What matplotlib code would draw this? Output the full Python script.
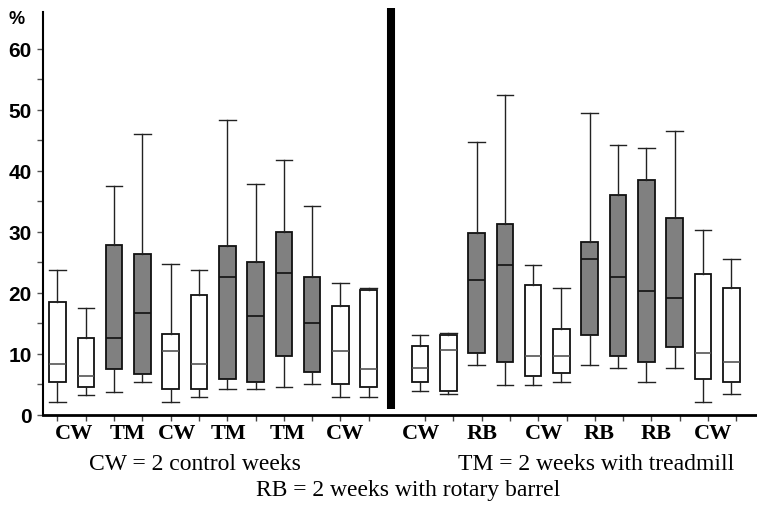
import numpy as np
import matplotlib
matplotlib.use('Agg')
import matplotlib.pyplot as plt

# left panel: CW / TM experiment, right panel: CW / RB experiment (values in %)
left_low = [2.1, 3.3, 3.7, 5.4, 2.1, 2.9, 4.2, 4.2, 4.6, 5.0, 2.9, 2.9]
left_q1 = [5.4, 4.6, 7.5, 6.7, 4.2, 4.2, 5.9, 5.4, 9.6, 7.0, 5.0, 4.6]
left_med = [8.3, 6.3, 12.5, 16.7, 10.4, 8.3, 22.5, 16.2, 23.3, 15.0, 10.4, 7.5]
left_q3 = [18.4, 12.5, 27.9, 26.3, 13.3, 19.6, 27.6, 25.0, 30.0, 22.5, 17.9, 20.4]
left_high = [23.8, 17.5, 37.5, 46.0, 24.7, 23.8, 48.4, 37.9, 41.7, 34.2, 21.6, 20.8]
left_treated = [0, 0, 1, 1, 0, 0, 1, 1, 1, 1, 0, 0]

right_low = [3.8, 3.4, 8.2, 4.9, 4.9, 5.3, 8.2, 7.7, 5.3, 7.7, 2.0, 3.4]
right_q1 = [5.3, 3.8, 10.1, 8.7, 6.3, 6.8, 13.0, 9.7, 8.7, 11.1, 5.8, 5.3]
right_med = [7.7, 10.6, 22.1, 24.5, 9.7, 9.7, 25.5, 22.6, 20.2, 19.2, 10.1, 8.7]
right_q3 = [11.2, 13.0, 29.8, 31.2, 21.2, 14.0, 28.4, 36.1, 38.5, 32.2, 23.1, 20.7]
right_high = [13.0, 13.4, 44.8, 52.4, 24.5, 20.7, 49.5, 44.2, 43.7, 46.6, 30.3, 25.5]
right_treated = [0, 0, 1, 1, 0, 0, 1, 1, 1, 1, 0, 0]

left_groups = ['CW', 'TM', 'CW', 'TM', 'TM', 'CW']
right_groups = ['CW', 'RB', 'CW', 'RB', 'RB', 'CW']

y_ticks = [0, 10, 20, 30, 40, 50, 60]

# layout (box slots)
right_start = 12.81
left_pos = np.arange(12)
right_pos = right_start + np.arange(12)
left_label_x = [0.58, 2.46, 4.24, 6.06, 8.13, 10.16]
right_label_x = [12.84, 15.0, 17.19, 19.13, 21.15, 23.16]


def make_stats(low, q1, med, q3, high):
    return [dict(whislo=a, q1=b, med=c, q3=d, whishi=e, fliers=[])
            for a, b, c, d, e in zip(low, q1, med, q3, high)]


fig = plt.figure(figsize=(7.57, 5.10), dpi=100)
ax = fig.add_axes([0.0564, 0.185, 0.9436, 0.789])

stats = make_stats(left_low, left_q1, left_med, left_q3, left_high) + \
        make_stats(right_low, right_q1, right_med, right_q3, right_high)
treated = left_treated + right_treated
positions = list(left_pos) + list(right_pos)

bp = ax.bxp(stats, positions=positions, widths=0.585, patch_artist=True,
            showfliers=False,
            boxprops=dict(linewidth=1.3, edgecolor='#111111'),
            whiskerprops=dict(linewidth=1.0, color='#222222'),
            capprops=dict(linewidth=1.0, color='#222222'),
            medianprops=dict(linewidth=1.2, color='#111111'),
            capwidths=0.585)
for box, med, t in zip(bp['boxes'], bp['medians'], treated):
    box.set_facecolor('#808080' if t else 'white')
    if not t:
        med.set_color('#555555')

# thick separator between the two experiments
ax.plot([11.78, 11.78], [0.9, 66.7], color='black', linewidth=5.8,
        solid_capstyle='butt', clip_on=False)

ax.set_xlim(-0.523, 24.72)
ax.set_ylim(0, 66)

ax.spines['top'].set_visible(False)
ax.spines['right'].set_visible(False)
ax.spines['left'].set_linewidth(1.5)
ax.spines['bottom'].set_linewidth(2.0)

ax.set_yticks(y_ticks)
ax.set_yticklabels([str(v) for v in y_ticks], fontfamily='Liberation Sans',
                   fontweight='bold', fontsize=15)
ax.set_yticks(np.arange(5, 60, 10), minor=True)
ax.tick_params(axis='y', which='both', direction='out', length=4, width=1,
               color='#555555', pad=4)

ax.set_xticks(list(left_pos) + list(right_pos + 0.18))
ax.set_xticklabels([])
ax.tick_params(axis='x', which='major', direction='out', length=4, width=1,
               color='#444444')

for x, g in zip(left_label_x + right_label_x, left_groups + right_groups):
    ax.text(x, -1.45, g, ha='center', va='top', fontsize=16,
            fontweight='bold', fontfamily='Liberation Serif')

fig.text(16.7 / 757, 1 - 19 / 510, '%', ha='center', va='center',
         fontsize=13, fontweight='bold', fontfamily='Liberation Sans')

fig.text(194.5 / 757, 1 - 465 / 510, 'CW = 2 control weeks', ha='center',
         va='center', fontsize=17, fontfamily='Liberation Serif')
fig.text(596.5 / 757, 1 - 465 / 510, 'TM = 2 weeks with treadmill',
         ha='center', va='center', fontsize=17, fontfamily='Liberation Serif')
fig.text(408.5 / 757, 1 - 491 / 510, 'RB = 2 weeks with rotary barrel',
         ha='center', va='center', fontsize=17, fontfamily='Liberation Serif')

fig.savefig('out.png', dpi=100)
